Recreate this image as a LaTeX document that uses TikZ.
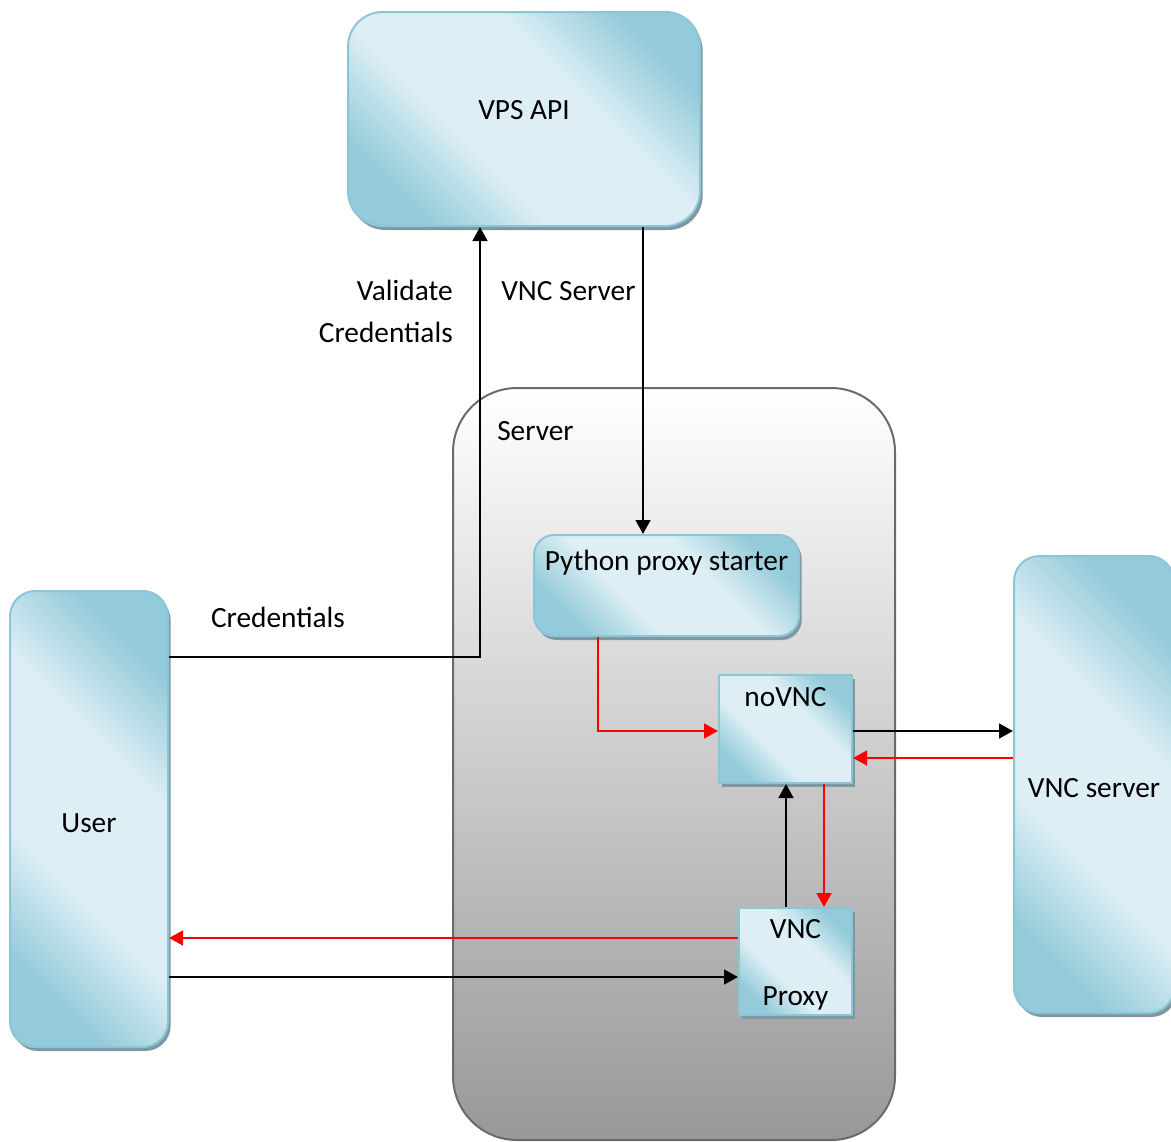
\documentclass[tikz,border=0pt]{standalone}
\usepackage{fontspec}
\setmainfont{Carlito}
\usetikzlibrary{arrows.meta,shadows}
\definecolor{boxlight}{HTML}{DDEFF5}
\definecolor{boxdark}{HTML}{94CBDA}
\definecolor{boxedge}{HTML}{8CC5D6}
\definecolor{boxshadow}{HTML}{7D98A2}
\definecolor{srvdark}{HTML}{989898}
\definecolor{srvedge}{HTML}{6A6A6A}
\definecolor{flowred}{HTML}{FF0000}
\pgfdeclareverticalshading{boxshade}{100bp}{color(0bp)=(boxdark); color(25bp)=(boxdark);
  color(40bp)=(boxlight); color(60bp)=(boxlight); color(75bp)=(boxdark); color(100bp)=(boxdark)}

\begin{document}
\begin{tikzpicture}[x=0.75pt,y=-0.75pt]
\tikzstyle{every node}+=[inner sep=0pt, font=\fontsize{22}{31.5}\selectfont]
\tikzstyle{box}=[draw=boxedge, line width=1.5pt, shading=boxshade, shading angle=-45,
  drop shadow={shadow xshift=2pt, shadow yshift=-3pt, fill=boxshadow, opacity=1}]
\tikzstyle{blk}=[line width=2pt, black, -{Triangle[length=10.5pt,width=11pt]}]
\tikzstyle{rd}=[line width=2pt, flowred, -{Triangle[length=10.5pt,width=11pt]}]
\useasboundingbox (0,0) rectangle (1171,1142);
% server frame
\node (server) [draw=srvedge, line width=1.5pt, top color=white, bottom color=srvdark,
  rounded corners=48pt, minimum width=331.5pt, minimum height=564pt] at (674,764) {};
\node (srvlbl) [anchor=west] at (497,431) {Server};
% boxes
\node (vps) [box, rounded corners=26pt, minimum width=264pt, minimum height=160.5pt,
  label={[yshift=7pt]center:VPS API}] at (524,119) {};
\node (starter) [box, rounded corners=15pt, minimum width=198.75pt, minimum height=75.75pt,
  label={[anchor=north, yshift=-12pt]north:Python proxy starter}] at (666.5,585.5) {};
\node (novnc) [box, minimum width=99.75pt, minimum height=81pt,
  label={[anchor=north, yshift=-10pt]north:noVNC}] at (785.5,729) {};
\node (proxy) [box, minimum width=84.75pt, minimum height=80.25pt,
  label={[anchor=north, yshift=-9pt]north:VNC},
  label={[anchor=south, yshift=4pt]south:Proxy}] at (795.5,961.5) {};
\node (user) [box, rounded corners=19pt, minimum width=118.5pt, minimum height=342pt,
  label={[yshift=-3pt]center:User}] at (89,819) {};
\node (vncsrv) [box, rounded corners=19pt, minimum width=120pt, minimum height=342.75pt,
  label={[yshift=-3pt]center:VNC server}] at (1094,784.5) {};
% labels
\node (credlbl) at (278,617) {Credentials};
\node (vallbl) [anchor=east, align=right] at (453,311) {Validate\\Credentials};
\node (srvapilbl) [anchor=west] at (501,291) {VNC Server};
% connectors
\draw [blk] (user.east |- 0,657) -| (vps.south -| 480,0);
\draw [blk] (vps.south -| 643,0) -- (starter.north -| 643,0);
\draw [rd] (starter.south -| 598,0) |- (novnc.west |- 0,731);
\draw [blk] (novnc.east |- 0,731) -- (vncsrv.west |- 0,731);
\draw [rd] (vncsrv.west |- 0,758) -- (novnc.east |- 0,758);
\draw [blk] (proxy.north -| 786,0) -- (novnc.south -| 786,0);
\draw [rd] (novnc.south -| 824,0) -- (proxy.north -| 824,0);
\draw [rd] (proxy.west |- 0,938) -- (user.east |- 0,938);
\draw [blk] (user.east |- 0,977) -- (proxy.west |- 0,977);
\end{tikzpicture}
\end{document}
